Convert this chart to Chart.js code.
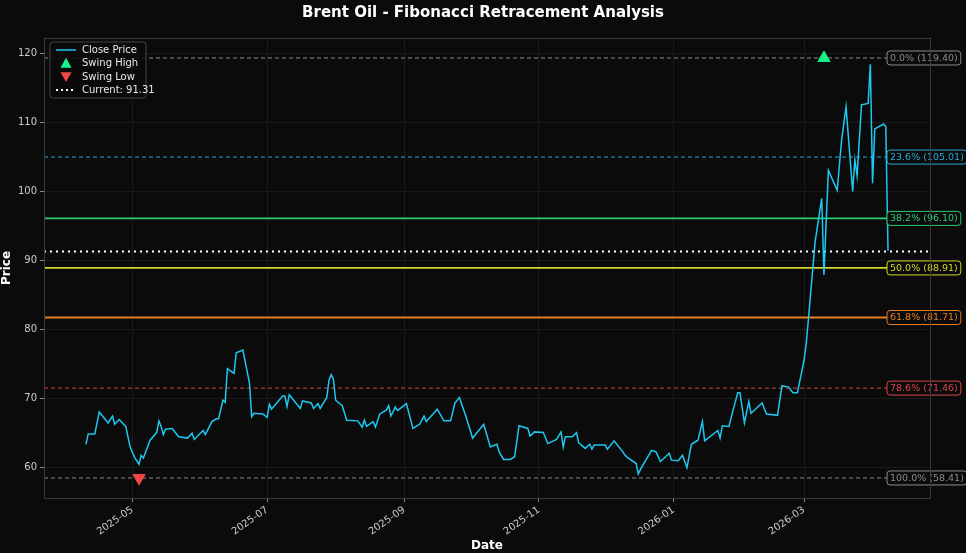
<!DOCTYPE html>
<html>
<head>
<meta charset="utf-8">
<script src="https://cdn.jsdelivr.net/npm/chart.js@4.4.1/dist/chart.umd.min.js"></script>
<style>
  html, body { margin: 0; padding: 0; background: #0b0b0b; }
  #wrap { width: 966px; height: 553px; }
</style>
</head>
<body>
<div id="wrap"><canvas id="fibChart"></canvas></div>
<script>
// Close prices
const dates = [
  '2025-04-10','2025-04-11','2025-04-14','2025-04-16','2025-04-20','2025-04-22','2025-04-23','2025-04-25','2025-04-28','2025-04-30',
  '2025-05-02','2025-05-04','2025-05-05','2025-05-06','2025-05-09','2025-05-12','2025-05-13','2025-05-14','2025-05-15','2025-05-16',
  '2025-05-19','2025-05-22','2025-05-26','2025-05-28','2025-05-29','2025-06-02','2025-06-03','2025-06-06','2025-06-08','2025-06-09',
  '2025-06-11','2025-06-12','2025-06-13','2025-06-16','2025-06-17','2025-06-20','2025-06-23','2025-06-24','2025-06-25','2025-06-29',
  '2025-07-01','2025-07-02','2025-07-03','2025-07-08','2025-07-09','2025-07-10','2025-07-11','2025-07-16','2025-07-17','2025-07-21',
  '2025-07-22','2025-07-24','2025-07-25','2025-07-28','2025-07-29','2025-07-30','2025-07-31','2025-08-01','2025-08-04','2025-08-06',
  '2025-08-11','2025-08-13','2025-08-14','2025-08-15','2025-08-18','2025-08-19','2025-08-21','2025-08-24','2025-08-25','2025-08-26',
  '2025-08-28','2025-08-29','2025-09-02','2025-09-05','2025-09-08','2025-09-10','2025-09-11','2025-09-16','2025-09-19','2025-09-22',
  '2025-09-24','2025-09-26','2025-09-29','2025-10-02','2025-10-07','2025-10-10','2025-10-13','2025-10-14','2025-10-16','2025-10-19',
  '2025-10-21','2025-10-23','2025-10-27','2025-10-28','2025-10-30','2025-11-03','2025-11-05','2025-11-09','2025-11-11','2025-11-12',
  '2025-11-13','2025-11-16','2025-11-18','2025-11-19','2025-11-22','2025-11-24','2025-11-25','2025-11-26','2025-12-01','2025-12-02',
  '2025-12-05','2025-12-09','2025-12-10','2025-12-11','2025-12-15','2025-12-16','2025-12-17','2025-12-22','2025-12-24','2025-12-26',
  '2025-12-30','2025-12-31','2026-01-03','2026-01-05','2026-01-07','2026-01-09','2026-01-12','2026-01-14','2026-01-15','2026-01-21',
  '2026-01-22','2026-01-23','2026-01-26','2026-01-28','2026-01-30','2026-01-31','2026-02-02','2026-02-04','2026-02-05','2026-02-09',
  '2026-02-10','2026-02-12','2026-02-17','2026-02-19','2026-02-22','2026-02-24','2026-02-26','2026-03-01','2026-03-02','2026-03-03',
  '2026-03-06','2026-03-09','2026-03-10','2026-03-12','2026-03-16','2026-03-18','2026-03-20','2026-03-23','2026-03-24','2026-03-25',
  '2026-03-27','2026-03-30','2026-03-31','2026-04-01','2026-04-02','2026-04-06','2026-04-07','2026-04-08'
];
const closes = [
  63.3, 64.8, 64.8, 68.0, 66.4, 67.4, 66.2, 66.9, 65.9, 62.9,
  61.4, 60.4, 61.7, 61.3, 63.9, 65.0, 66.7, 65.9, 64.7, 65.5,
  65.6, 64.4, 64.2, 64.9, 64.0, 65.3, 64.7, 66.6, 67.0, 67.0,
  69.7, 69.4, 74.3, 73.6, 76.6, 77.0, 72.2, 67.3, 67.8, 67.7,
  67.2, 69.1, 68.4, 70.3, 70.3, 68.8, 70.5, 68.5, 69.6, 69.3,
  68.5, 69.2, 68.5, 70.1, 72.6, 73.4, 72.7, 69.7, 68.9, 66.8,
  66.7, 65.8, 66.8, 65.9, 66.6, 65.8, 67.7, 68.3, 68.9, 67.4,
  68.7, 68.2, 69.2, 65.6, 66.2, 67.4, 66.6, 68.4, 66.7, 66.7,
  69.3, 70.1, 67.3, 64.2, 66.2, 62.9, 63.3, 62.2, 61.1, 61.1,
  61.5, 66.0, 65.6, 64.5, 65.1, 65.0, 63.4, 64.0, 65.1, 62.9,
  64.4, 64.4, 65.0, 63.5, 62.7, 63.3, 62.6, 63.2, 63.2, 62.6,
  63.8, 62.2, 61.7, 61.4, 60.5, 59.0, 59.7, 62.4, 62.2, 60.8,
  62.0, 61.0, 60.9, 61.7, 59.9, 63.3, 63.9, 66.6, 63.8, 65.3,
  64.2, 66.0, 65.9, 68.4, 70.8, 70.8, 66.4, 69.5, 67.8, 69.0,
  69.3, 67.7, 67.5, 71.8, 71.6, 70.8, 70.8, 75.5, 78.0, 81.6,
  92.7, 99.0, 87.9, 103.1, 100.2, 107.5, 112.3, 100.0, 104.6, 102.3,
  112.6, 112.8, 118.5, 101.2, 109.1, 109.8, 109.4, 91.4
];
const swingHigh = { date: '2026-03-10', price: 119.40 };
const swingLow = { date: '2025-05-04', price: 58.41 };
const currentPrice = 91.31;
const fibLabels = ['0.0%', '23.6%', '38.2%', '50.0%', '61.8%', '78.6%', '100.0%'];
const fibPrices = [119.40, 105.01, 96.10, 88.91, 81.71, 71.46, 58.41];
const fibColors = ['#8a8a8a', '#29a9d6', '#2ecc71', '#d4d42a', '#e67e22', '#d9454a', '#8a8a8a'];
const fibSolid = [false, false, true, true, true, false, false];
const monthTicks = ['2025-05-01', '2025-07-01', '2025-09-01', '2025-11-01', '2026-01-01', '2026-03-01'];
const xMin = '2025-03-22', xMax = '2026-04-27';

const t = s => Date.parse(s + 'T00:00:00Z');

const datasets = [
  {
    label: 'Close Price',
    data: dates.map((d, i) => ({ x: t(d), y: closes[i] })),
    borderColor: '#1ec8f0', borderWidth: 1.5, pointRadius: 0, tension: 0, order: 1
  },
  {
    label: 'Swing High',
    data: [{ x: t(swingHigh.date), y: swingHigh.price }],
    showLine: false, pointStyle: 'triangle', pointRadius: 7,
    backgroundColor: '#19f08c', borderColor: '#19f08c', order: 0
  },
  {
    label: 'Swing Low',
    data: [{ x: t(swingLow.date), y: swingLow.price }],
    showLine: false, pointStyle: 'triangle', rotation: 180, pointRadius: 7,
    backgroundColor: '#f04848', borderColor: '#f04848', order: 0
  },
  {
    label: 'Current: ' + currentPrice.toFixed(2),
    data: [{ x: t(xMin), y: currentPrice }, { x: t(xMax), y: currentPrice }],
    borderColor: '#ffffff', borderWidth: 2, borderDash: [2, 4], pointRadius: 0, order: 2
  }
];
fibPrices.forEach((p, i) => {
  datasets.push({
    label: 'fib' + i,
    data: [{ x: t(xMin), y: p }, { x: t(xMax), y: p }],
    borderColor: fibColors[i], borderWidth: fibSolid[i] ? 1.8 : 1,
    borderDash: fibSolid[i] ? [] : [4, 3], pointRadius: 0, order: 3
  });
});

// title, fib tags and legend drawn by hand
const overlay = {
  id: 'overlay',
  afterDatasetsDraw(chart) {
    const { ctx, chartArea: a, scales: { y } } = chart;
    ctx.save();
    ctx.font = 'bold 15px "DejaVu Sans"';
    ctx.fillStyle = '#ffffff';
    ctx.textAlign = 'center';
    ctx.textBaseline = 'middle';
    ctx.fillText('Brent Oil - Fibonacci Retracement Analysis', 483, 13);

    ctx.font = '9.5px "DejaVu Sans"';
    ctx.textAlign = 'left';
    fibPrices.forEach((p, i) => {
      const txt = fibLabels[i] + ' (' + p.toFixed(2) + ')';
      const w = ctx.measureText(txt).width;
      const yy = y.getPixelForValue(p);
      const bx = 887, bw = w + 6, bh = 14;
      ctx.fillStyle = '#0b0b0b';
      ctx.strokeStyle = fibColors[i];
      ctx.lineWidth = 1;
      ctx.beginPath();
      ctx.roundRect(bx, yy - bh / 2, bw, bh, 3);
      ctx.fill();
      ctx.stroke();
      ctx.fillStyle = fibColors[i];
      ctx.fillText(txt, bx + 3, yy + 0.5);
    });

    // legend
    const lx = a.left + 6, ly = a.top + 4;
    ctx.font = '10px "DejaVu Sans"';
    ctx.fillStyle = 'rgba(11,11,11,0.85)';
    ctx.strokeStyle = '#444';
    ctx.beginPath();
    ctx.roundRect(lx, ly, 96, 56, 3);
    ctx.fill();
    ctx.stroke();
    const rows = ['Close Price', 'Swing High', 'Swing Low', 'Current: ' + currentPrice.toFixed(2)];
    rows.forEach((r, i) => {
      const ry = ly + 8 + i * 13.3;
      const sx = lx + 6;
      if (i === 0 || i === 3) {
        ctx.strokeStyle = i === 0 ? '#1ec8f0' : '#ffffff';
        ctx.lineWidth = i === 0 ? 1.5 : 2;
        ctx.setLineDash(i === 0 ? [] : [2, 3]);
        ctx.beginPath();
        ctx.moveTo(sx, ry);
        ctx.lineTo(sx + 20, ry);
        ctx.stroke();
        ctx.setLineDash([]);
      } else {
        ctx.fillStyle = i === 1 ? '#19f08c' : '#f04848';
        const cx = sx + 10, s = 5.5;
        ctx.beginPath();
        if (i === 1) { ctx.moveTo(cx, ry - s); ctx.lineTo(cx + s, ry + s * 0.8); ctx.lineTo(cx - s, ry + s * 0.8); }
        else { ctx.moveTo(cx, ry + s); ctx.lineTo(cx + s, ry - s * 0.8); ctx.lineTo(cx - s, ry - s * 0.8); }
        ctx.closePath();
        ctx.fill();
      }
      ctx.fillStyle = '#e8e8e8';
      ctx.fillText(r, sx + 26, ry + 0.5);
    });
    ctx.restore();
  }
};

const frame = {
  id: 'frame',
  afterDraw(chart) {
    const { ctx, chartArea: a } = chart;
    ctx.save();
    ctx.strokeStyle = '#3a3a3a';
    ctx.lineWidth = 1;
    ctx.strokeRect(a.left + 0.5, a.top + 0.5, a.right - a.left, a.bottom - a.top);
    ctx.restore();
  }
};

new Chart(document.getElementById('fibChart'), {
  type: 'line',
  data: { datasets },
  options: {
    responsive: true,
    maintainAspectRatio: false,
    animation: false,
    devicePixelRatio: 1,
    layout: { padding: { top: 38, right: 36, left: 0, bottom: 0 } },
    plugins: { legend: { display: false }, tooltip: { enabled: false } },
    scales: {
      x: {
        type: 'linear',
        min: t(xMin), max: t(xMax),
        afterBuildTicks: s => { s.ticks = monthTicks.map(m => ({ value: t(m) })); },
        afterFit: s => { s.height = 55; },
        ticks: {
          color: '#cccccc', font: { family: 'DejaVu Sans', size: 10 },
          minRotation: 35, maxRotation: 35, padding: 2,
          callback: v => new Date(v).toISOString().slice(0, 7)
        },
        grid: { color: '#1a1a1a', tickColor: '#888', tickLength: 4 },
        border: { display: false },
        title: { display: true, text: 'Date', color: '#ffffff', font: { family: 'DejaVu Sans', size: 12, weight: 'bold' }, padding: 0 }
      },
      y: {
        min: 55.5, max: 122.3,
        afterBuildTicks: s => { s.ticks = [60, 70, 80, 90, 100, 110, 120].map(v => ({ value: v })); },
        afterFit: s => { s.width = 44; },
        ticks: { color: '#cccccc', font: { family: 'DejaVu Sans', size: 10 }, padding: 3 },
        grid: { color: '#1a1a1a', tickColor: '#888', tickLength: 4 },
        border: { display: false },
        title: { display: true, text: 'Price', color: '#ffffff', font: { family: 'DejaVu Sans', size: 12, weight: 'bold' }, padding: 0 }
      }
    }
  },
  plugins: [frame, overlay]
});
</script>
</body>
</html>
